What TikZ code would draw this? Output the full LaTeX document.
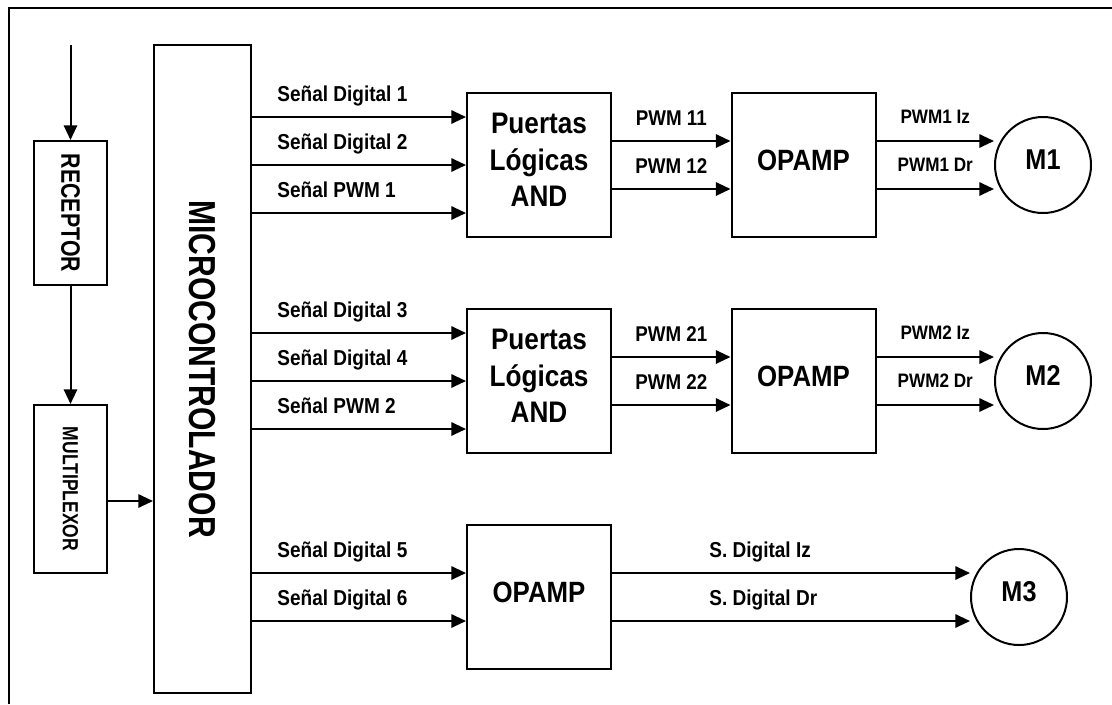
\documentclass[tikz,border=0pt]{standalone}
\usepackage{fontspec}
\usepackage{graphicx}
\setmainfont{Liberation Sans}[FakeStretch=0.88]
\newfontfamily\narrowfont{Liberation Sans}[FakeStretch=0.8]
\usetikzlibrary{arrows.meta}
\tikzset{block/.style={draw,line width=1.5pt,minimum width=108pt,minimum height=108pt,
           text depth=7.5pt,align=center},
         vbox/.style={draw,line width=1.5pt,minimum width=54.75pt,inner sep=0pt},
         motor/.style={draw,circle,line width=1.5pt,minimum size=72pt,inner sep=0pt,
           text depth=8pt,font=\bfseries\fontsize{21.5}{24}\selectfont},
         arr/.style={line width=1.5pt,-{Triangle[length=11pt,width=10pt]}},
         sig/.style={anchor=base west,xshift=15pt,yshift=11.5pt,font=\bfseries\fontsize{16.2}{19}\selectfont},
         pwm/.style={anchor=base,yshift=12pt,font=\bfseries\fontsize{16}{19}\selectfont},
         outlbl/.style={anchor=base,yshift=13.5pt,font=\bfseries\fontsize{14.6}{17}\selectfont}}

\begin{document}
\begin{tikzpicture}[x=0.75pt,y=-0.75pt]
\useasboundingbox (0,0) rectangle (1112,704);
% marco
\draw[line width=2pt] (9,704) -- (9,8) -- (1112,8);

% entrada
\node[vbox,minimum height=108pt,font=\narrowfont\bfseries\fontsize{20}{24}\selectfont] (rec) at (70.5,213) {\rotatebox{-90}{RECEPTOR}};
\node[vbox,minimum height=126pt,font=\narrowfont\bfseries\fontsize{16.4}{20}\selectfont] (mux) at (70.5,489) {\rotatebox{-90}{MULTIPLEXOR}};
\node[vbox,minimum width=72.75pt,minimum height=486pt,font=\narrowfont\bfseries\fontsize{28.2}{32}\selectfont] (mcu) at (202.5,369) {\rotatebox{-90}{MICROCONTROLADOR}};

\coordinate (ant) at (70.5,45);
\draw[arr] (ant) -- (rec);
\draw[arr] (rec) -- (mux);
\coordinate (mo) at ([yshift=-9pt]mux.east);
\draw[arr] (mo) -- (mo -| mcu.west);

% etapas
\node[block,font=\bfseries\fontsize{22.3}{27.5}\selectfont] (and1) at (539,165) {Puertas\\Lógicas\\AND};
\node[block,font=\bfseries\fontsize{22.3}{27.5}\selectfont] (and2) at (539,381) {Puertas\\Lógicas\\AND};
\node[block,font=\bfseries\fontsize{22}{24}\selectfont] (op1) at (803.5,165) {OPAMP};
\node[block,font=\bfseries\fontsize{22}{24}\selectfont] (op2) at (803.5,381) {OPAMP};
\node[block,font=\bfseries\fontsize{22}{24}\selectfont] (op3) at (539,597) {OPAMP};

\node[motor] (m1) at (1043,165) {M1};
\node[motor] (m2) at (1043,381) {M2};
\node[motor] (m3) at (1019,597) {M3};

% senales del microcontrolador
\foreach \n/\s/\t in {and1/36pt/Señal Digital 1, and1/0pt/Señal Digital 2, and1/-36pt/Señal PWM 1,
                      and2/36pt/Señal Digital 3, and2/0pt/Señal Digital 4, and2/-36pt/Señal PWM 2,
                      op3/18pt/Señal Digital 5, op3/-18pt/Señal Digital 6}
{
  \coordinate (in) at ([yshift=\s]\n.west);
  \draw[arr] (mcu.east |- in) node[sig] {\t} -- (in);
}

% PWM
\foreach \a/\b/\k in {and1/op1/1, and2/op2/2}
{
  \coordinate (p1) at ([yshift=18pt]\a.east);
  \coordinate (p2) at ([yshift=-18pt]\a.east);
  \draw[arr] (p1) -- node[pwm] {PWM \k1} (p1 -| \b.west);
  \draw[arr] (p2) -- node[pwm] {PWM \k2} (p2 -| \b.west);
}

% motores
\foreach \a/\m/\k in {op1/m1/1, op2/m2/2}
{
  \coordinate (q1) at ([yshift=18pt]\a.east);
  \coordinate (q2) at ([yshift=-18pt]\a.east);
  \draw[arr] (q1) -- node[outlbl] {PWM\k{} Iz} (q1 -| \m.west);
  \draw[arr] (q2) -- node[outlbl] {PWM\k{} Dr} (q2 -| \m.west);
}

\coordinate (s1) at ([yshift=18pt]op3.east);
\coordinate (s2) at ([yshift=-18pt]op3.east);
\draw[arr] (s1) node[sig,xshift=54pt] {S. Digital Iz} -- (s1 -| m3.west);
\draw[arr] (s2) node[sig,xshift=54pt] {S. Digital Dr} -- (s2 -| m3.west);
\end{tikzpicture}
\end{document}
